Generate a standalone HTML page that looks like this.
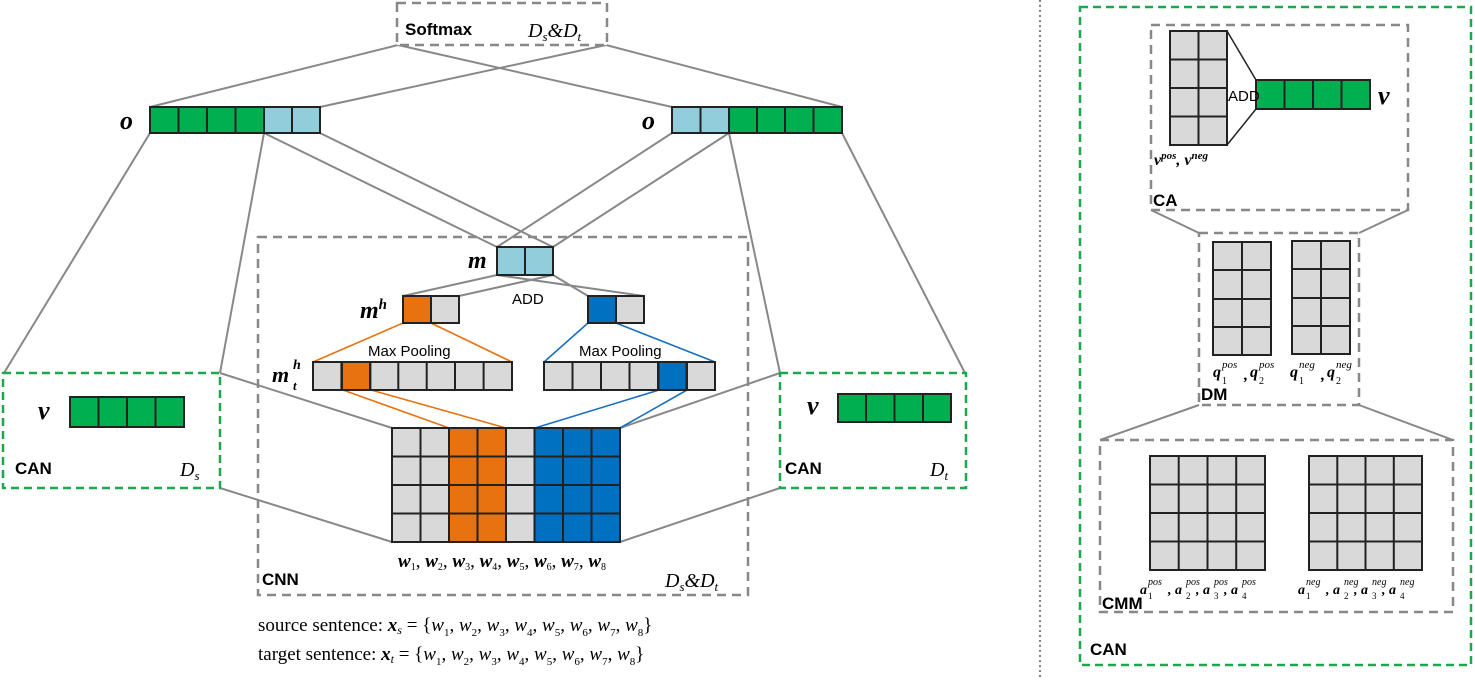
<!DOCTYPE html>
<html><head><meta charset="utf-8"><style>
html,body{margin:0;padding:0;background:#fff}
svg{display:block}
.b{font-family:"Liberation Sans",sans-serif;font-weight:bold;font-size:17px}
.s{font-family:"Liberation Sans",sans-serif;font-size:15px}
.m{font-family:"Liberation Serif",serif;font-style:italic;font-weight:bold}
.mi{font-family:"Liberation Serif",serif;font-style:italic}
.r{font-family:"Liberation Serif",serif;font-size:19px}
</style></head><body>
<svg width="1475" height="680" viewBox="0 0 1475 680" xmlns="http://www.w3.org/2000/svg">
<g fill="none" stroke="#888" stroke-width="2">
<line x1="398" y1="45" x2="150" y2="107"/><line x1="398" y1="45" x2="672" y2="107"/>
<line x1="606" y1="45" x2="320" y2="107"/><line x1="606" y1="45" x2="842" y2="107"/>
<line x1="150" y1="133" x2="4" y2="373"/><line x1="264" y1="133" x2="220" y2="373"/>
<line x1="264" y1="133" x2="497" y2="247"/><line x1="320" y1="133" x2="553" y2="247"/>
<line x1="672" y1="133" x2="497" y2="247"/><line x1="729" y1="133" x2="553" y2="247"/>
<line x1="729" y1="133" x2="780" y2="373"/><line x1="842" y1="133" x2="965" y2="373"/>
<line x1="497" y1="275" x2="403" y2="296"/><line x1="497" y1="275" x2="644" y2="296"/>
<line x1="553" y1="275" x2="459" y2="296"/><line x1="553" y1="275" x2="588" y2="296"/>
<line x1="220" y1="373" x2="392" y2="428"/><line x1="220" y1="488" x2="392" y2="542"/>
<line x1="780" y1="373" x2="620" y2="428"/><line x1="780" y1="488" x2="620" y2="542"/>
<line x1="1151" y1="210" x2="1199" y2="233"/><line x1="1408" y1="210" x2="1359" y2="233"/>
<line x1="1199" y1="405" x2="1100" y2="440"/><line x1="1359" y1="405" x2="1453" y2="440"/>
</g>
<g fill="none" stroke-width="1.6">
<line x1="403" y1="323" x2="313" y2="362" stroke="#e8720f"/><line x1="431" y1="323" x2="512" y2="362" stroke="#e8720f"/>
<line x1="343" y1="390" x2="449" y2="428" stroke="#e8720f"/><line x1="371" y1="390" x2="506" y2="428" stroke="#e8720f"/>
<line x1="588" y1="323" x2="544" y2="362" stroke="#1a70c0"/><line x1="616" y1="323" x2="715" y2="362" stroke="#1a70c0"/>
<line x1="659" y1="390" x2="535" y2="428" stroke="#1a70c0"/><line x1="687" y1="390" x2="620" y2="428" stroke="#1a70c0"/>
</g>
<g fill="none" stroke="#888" stroke-width="2.5" stroke-dasharray="9,6">
<rect x="397" y="3" width="210" height="42" fill="#fff"/>
<rect x="258" y="237" width="490" height="358"/>
<rect x="1151" y="25" width="257" height="185"/>
<rect x="1199" y="233" width="160" height="172"/>
<rect x="1100" y="440" width="353" height="172"/>
</g>
<g fill="#fff" stroke="#1ca84a" stroke-width="2.5" stroke-dasharray="8,5">
<rect x="3" y="373" width="217" height="115"/>
<rect x="780" y="373" width="186" height="115"/>
<rect x="1080" y="7" width="391" height="658" fill="none"/>
</g>
<line x1="1040" y1="0" x2="1040" y2="680" stroke="#333" stroke-width="1.2" stroke-dasharray="2,3"/>
<g stroke="#222" stroke-width="2">
<rect x="150" y="107" width="114" height="26" fill="#00b050"/><rect x="264" y="107" width="56" height="26" fill="#92cddc"/>
<path d="M178.5 107v26M207 107v26M235.5 107v26M292 107v26"/>
<rect x="672" y="107" width="57" height="26" fill="#92cddc"/><rect x="729" y="107" width="113" height="26" fill="#00b050"/>
<path d="M700.5 107v26M757 107v26M785 107v26M813.5 107v26"/>
<rect x="497" y="247" width="56" height="28" fill="#92cddc"/><path d="M525 247v28"/>
<rect x="403" y="296" width="28" height="27" fill="#e8720f"/><rect x="431" y="296" width="28" height="27" fill="#d9d9d9"/>
<rect x="588" y="296" width="28" height="27" fill="#0070c0"/><rect x="616" y="296" width="28" height="27" fill="#d9d9d9"/>
<rect x="313" y="362" width="199" height="28" fill="#d9d9d9"/><rect x="342" y="362" width="28.4" height="28" fill="#e8720f"/>
<path d="M341.4 362v28M370 362v28M398.3 362v28M426.7 362v28M455 362v28M483.6 362v28"/>
<rect x="544" y="362" width="171" height="28" fill="#d9d9d9"/><rect x="658.5" y="362" width="28.5" height="28" fill="#0070c0"/>
<path d="M572.5 362v28M601 362v28M629.5 362v28M658 362v28M686.5 362v28"/>
<rect x="392" y="428" width="228" height="114" fill="#d9d9d9"/>
<rect x="449" y="428" width="57" height="114" fill="#e8720f"/>
<rect x="534.5" y="428" width="85.5" height="114" fill="#0070c0"/>
<path d="M420.5 428v114M449 428v114M477.5 428v114M506 428v114M534.5 428v114M563 428v114M591.5 428v114M392 456.5h228M392 485h228M392 513.5h228"/>
<rect x="70" y="397" width="114" height="30" fill="#00b050"/><path d="M98.5 397v30M127 397v30M155.5 397v30"/>
<rect x="838" y="394" width="113" height="28" fill="#00b050"/><path d="M866 394v28M894.5 394v28M923 394v28"/>
<rect x="1170" y="31" width="57" height="114" fill="#d9d9d9"/><path d="M1198.5 31v114M1170 59.5h57M1170 88h57M1170 116.5h57"/>
<path d="M1227 31L1256 80M1227 145L1256 109" fill="none" stroke-width="1.5"/>
<rect x="1256" y="80" width="114" height="29" fill="#00b050"/><path d="M1284.5 80v29M1313 80v29M1341.5 80v29"/>
<rect x="1213" y="242" width="58" height="113" fill="#d9d9d9"/><path d="M1242 242v113M1213 270h58M1213 299h58M1213 327h58"/>
<rect x="1292" y="241" width="58" height="113" fill="#d9d9d9"/><path d="M1321 241v113M1292 269h58M1292 298h58M1292 326h58"/>
<rect x="1150" y="456" width="115" height="114" fill="#d9d9d9"/><path d="M1178.7 456v114M1207.5 456v114M1236.2 456v114M1150 484.5h115M1150 513h115M1150 541.5h115"/>
<rect x="1309" y="456" width="113" height="114" fill="#d9d9d9"/><path d="M1337.3 456v114M1365.5 456v114M1393.8 456v114M1309 484.5h113M1309 513h113M1309 541.5h113"/>
</g>
<text x="405" y="35" class="b">Softmax</text>
<text x="528" y="37" class="mi" font-size="20">D<tspan font-size="13" dy="4">s</tspan><tspan dy="-4">&amp;D</tspan><tspan font-size="13" dy="4">t</tspan></text>
<text x="120" y="129" class="m" font-size="26">o</text>
<text x="642" y="129" class="m" font-size="26">o</text>
<text x="468" y="268" class="m" font-size="24">m</text>
<text x="360" y="318" class="m" font-size="24">m<tspan font-size="15" dy="-9">h</tspan></text>
<text x="272" y="382" class="m" font-size="22">m</text>
<text x="293" y="369" class="m" font-size="14">h</text>
<text x="293" y="390" class="m" font-size="13">t</text>
<text x="512" y="304" class="s">ADD</text>
<text x="368" y="356" class="s">Max Pooling</text>
<text x="579" y="356" class="s">Max Pooling</text>
<text x="38" y="419" class="m" font-size="26">v</text>
<text x="807" y="414" class="m" font-size="26">v</text>
<text x="15" y="474" class="b">CAN</text>
<text x="785" y="474" class="b">CAN</text>
<text x="180" y="476" class="mi" font-size="20">D<tspan font-size="13" dy="4">s</tspan></text>
<text x="930" y="476" class="mi" font-size="20">D<tspan font-size="13" dy="4">t</tspan></text>
<text x="398" y="567" class="r" font-size="15"><tspan class="m">w</tspan><tspan font-size="10" dy="3">1</tspan><tspan dy="-3">, </tspan><tspan class="m">w</tspan><tspan font-size="10" dy="3">2</tspan><tspan dy="-3">, </tspan><tspan class="m">w</tspan><tspan font-size="10" dy="3">3</tspan><tspan dy="-3">, </tspan><tspan class="m">w</tspan><tspan font-size="10" dy="3">4</tspan><tspan dy="-3">, </tspan><tspan class="m">w</tspan><tspan font-size="10" dy="3">5</tspan><tspan dy="-3">, </tspan><tspan class="m">w</tspan><tspan font-size="10" dy="3">6</tspan><tspan dy="-3">, </tspan><tspan class="m">w</tspan><tspan font-size="10" dy="3">7</tspan><tspan dy="-3">, </tspan><tspan class="m">w</tspan><tspan font-size="10" dy="3">8</tspan></text>
<text x="262" y="585" class="b">CNN</text>
<text x="665" y="587" class="mi" font-size="20">D<tspan font-size="13" dy="4">s</tspan><tspan dy="-4">&amp;D</tspan><tspan font-size="13" dy="4">t</tspan></text>
<text x="258" y="631" class="r">source sentence: <tspan class="m">x</tspan><tspan font-size="12" dy="3" class="mi">s</tspan><tspan dy="-3"> = {</tspan><tspan class="mi">w</tspan><tspan font-size="11" dy="5">1</tspan><tspan dy="-5">, </tspan><tspan class="mi">w</tspan><tspan font-size="11" dy="5">2</tspan><tspan dy="-5">, </tspan><tspan class="mi">w</tspan><tspan font-size="11" dy="5">3</tspan><tspan dy="-5">, </tspan><tspan class="mi">w</tspan><tspan font-size="11" dy="5">4</tspan><tspan dy="-5">, </tspan><tspan class="mi">w</tspan><tspan font-size="11" dy="5">5</tspan><tspan dy="-5">, </tspan><tspan class="mi">w</tspan><tspan font-size="11" dy="5">6</tspan><tspan dy="-5">, </tspan><tspan class="mi">w</tspan><tspan font-size="11" dy="5">7</tspan><tspan dy="-5">, </tspan><tspan class="mi">w</tspan><tspan font-size="11" dy="5">8</tspan><tspan dy="-5">}</tspan></text>
<text x="258" y="660" class="r">target sentence: <tspan class="m">x</tspan><tspan font-size="12" dy="3" class="mi">t</tspan><tspan dy="-3"> = {</tspan><tspan class="mi">w</tspan><tspan font-size="11" dy="5">1</tspan><tspan dy="-5">, </tspan><tspan class="mi">w</tspan><tspan font-size="11" dy="5">2</tspan><tspan dy="-5">, </tspan><tspan class="mi">w</tspan><tspan font-size="11" dy="5">3</tspan><tspan dy="-5">, </tspan><tspan class="mi">w</tspan><tspan font-size="11" dy="5">4</tspan><tspan dy="-5">, </tspan><tspan class="mi">w</tspan><tspan font-size="11" dy="5">5</tspan><tspan dy="-5">, </tspan><tspan class="mi">w</tspan><tspan font-size="11" dy="5">6</tspan><tspan dy="-5">, </tspan><tspan class="mi">w</tspan><tspan font-size="11" dy="5">7</tspan><tspan dy="-5">, </tspan><tspan class="mi">w</tspan><tspan font-size="11" dy="5">8</tspan><tspan dy="-5">}</tspan></text>
<text x="1228" y="101" class="s" font-size="11">ADD</text>
<text x="1378" y="104" class="m" font-size="26">v</text>
<text x="1154" y="165" class="m" font-size="16">v<tspan font-size="11" dy="-6" class="mi">pos</tspan><tspan dy="6">, v</tspan><tspan font-size="11" dy="-6" class="mi">neg</tspan></text>
<text x="1153" y="206" class="b">CA</text>
<g class="m" font-size="16">
<text x="1213" y="377">q</text><text x="1244" y="380">,</text><text x="1250" y="377">q</text>
<text x="1290" y="377">q</text><text x="1321" y="380">,</text><text x="1327" y="377">q</text>
</g>
<g class="mi" font-size="11">
<text x="1222" y="368">pos</text><text x="1259" y="368">pos</text>
<text x="1299" y="368">neg</text><text x="1336" y="368">neg</text>
</g>
<g font-family="Liberation Serif" font-size="10">
<text x="1222" y="384">1</text><text x="1259" y="384">2</text><text x="1299" y="384">1</text><text x="1336" y="384">2</text>
</g>
<text x="1201" y="400" class="b" font-size="14">DM</text>
<g class="m" font-size="14">
<text x="1140" y="594">a</text><text x="1168" y="594">, a</text><text x="1196" y="594">, a</text><text x="1224" y="594">, a</text>
<text x="1298" y="594">a</text><text x="1326" y="594">, a</text><text x="1354" y="594">, a</text><text x="1382" y="594">, a</text>
</g>
<g class="mi" font-size="10">
<text x="1148" y="585">pos</text><text x="1186" y="585">pos</text><text x="1214" y="585">pos</text><text x="1242" y="585">pos</text>
<text x="1306" y="585">neg</text><text x="1344" y="585">neg</text><text x="1372" y="585">neg</text><text x="1400" y="585">neg</text>
</g>
<g font-family="Liberation Serif" font-size="9">
<text x="1148" y="599">1</text><text x="1186" y="599">2</text><text x="1214" y="599">3</text><text x="1242" y="599">4</text>
<text x="1306" y="599">1</text><text x="1344" y="599">2</text><text x="1372" y="599">3</text><text x="1400" y="599">4</text>
</g>
<text x="1102" y="609" class="b" font-size="14">CMM</text>
<text x="1090" y="655" class="b" font-size="15">CAN</text>
</svg>
</body></html>
